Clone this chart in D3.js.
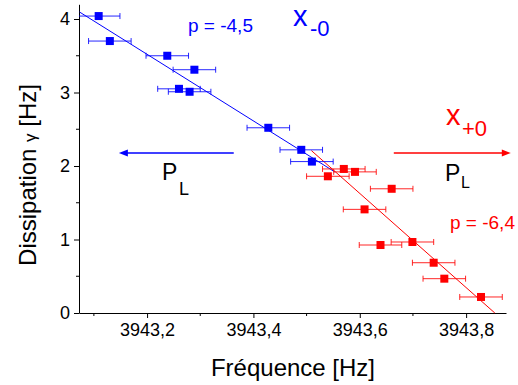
<!DOCTYPE html>
<html><head><meta charset="utf-8">
<script src="https://cdn.jsdelivr.net/npm/d3@7"></script>
<style>
html,body{margin:0;padding:0;background:#fff;}
text{font-family:"Liberation Sans",Arial,sans-serif;}
</style></head>
<body>
<svg id="chart" width="518" height="385"></svg>
<script>
// ---- data ----
const blueFreq = [3943.109, 3943.130, 3943.238, 3943.289, 3943.260, 3943.280, 3943.428, 3943.490, 3943.510];
const blueDiss = [4.04, 3.70, 3.50, 3.31, 3.05, 3.01, 2.52, 2.22, 2.06];
const redFreq  = [3943.570, 3943.591, 3943.540, 3943.660, 3943.609, 3943.639, 3943.699, 3943.739, 3943.759, 3943.828];
const redDiss  = [1.96, 1.92, 1.86, 1.69, 1.41, 0.925, 0.966, 0.684, 0.467, 0.218];
const freqErr = 0.04;
const blueFitX = [3943.073, 3943.553];
const blueFitY = [4.095, 1.92];
const redFitX  = [3943.509, 3943.854];
const redFitY  = [2.21, 0];
const xTicks = [3943.2, 3943.4, 3943.6, 3943.8];
const xTickLabels = ["3943,2", "3943,4", "3943,6", "3943,8"];
const xMinor = [3943.1, 3943.3, 3943.5, 3943.7];
const yTicks = [0, 1, 2, 3, 4];
const yMinor = [0.5, 1.5, 2.5, 3.5];

const svg = d3.select("#chart");
const x = d3.scaleLinear().domain([3943.072, 3943.875]).range([79, 506]);
const y = d3.scaleLinear().domain([0, 4.2]).range([313, 4.3]);
const BLUE = "#0000ff", RED = "#ff0000";

// axes
const xAxis = d3.axisBottom(x).tickValues(xTicks).tickFormat((d,i)=>xTickLabels[i]).tickSize(5).tickSizeOuter(0).tickPadding(5);
const gx = svg.append("g").attr("transform","translate(0,313)").call(xAxis);
gx.selectAll("text").attr("font-size",18).attr("fill","#000");
gx.selectAll("line").attr("stroke","#000");
gx.select(".domain").attr("stroke","#000");
gx.selectAll(".minor").data(xMinor).enter().append("line").attr("class","minor")
  .attr("x1",d=>x(d)).attr("x2",d=>x(d)).attr("y1",0).attr("y2",3).attr("stroke","#000");

const yAxis = d3.axisLeft(y).tickValues(yTicks).tickFormat(d3.format("d")).tickSize(5).tickSizeOuter(0).tickPadding(4);
const gy = svg.append("g").attr("transform","translate(79,0)").call(yAxis);
gy.selectAll("text").attr("font-size",18).attr("fill","#000");
gy.selectAll("line").attr("stroke","#000");
gy.select(".domain").attr("stroke","#000");
gy.selectAll(".minor").data(yMinor).enter().append("line").attr("class","minor")
  .attr("y1",d=>y(d)).attr("y2",d=>y(d)).attr("x1",0).attr("x2",-3).attr("stroke","#000");

// axis titles
svg.append("text").attr("x",293).attr("y",376).attr("text-anchor","middle").attr("font-size",24).text("Fréquence [Hz]");
const yt = svg.append("text").attr("transform","translate(36,175) rotate(-90)").attr("text-anchor","middle").attr("font-size",24);
yt.append("tspan").text("Dissipation ");
yt.append("tspan").attr("font-size",17).text("γ");
yt.append("tspan").text(" [Hz]");

// fit lines
const line = d3.line().x(d=>x(d[0])).y(d=>y(d[1]));
svg.append("path").attr("d",line(d3.zip(blueFitX,blueFitY))).attr("stroke",BLUE).attr("fill","none").attr("stroke-width",1);
svg.append("path").attr("d",line(d3.zip(redFitX,redFitY))).attr("stroke",RED).attr("fill","none").attr("stroke-width",1);

function drawSeries(fx, fy, color){
  const data = d3.zip(fx, fy);
  const g = svg.append("g");
  const eb = g.selectAll(".eb").data(data).enter().append("g").attr("stroke",color).attr("stroke-width",1).attr("stroke-opacity",0.85);
  eb.append("line").attr("x1",d=>Math.max(x(d[0]-freqErr),x.range()[0])).attr("x2",d=>x(d[0]+freqErr)).attr("y1",d=>y(d[1])).attr("y2",d=>y(d[1]));
  eb.filter(d=>x(d[0]-freqErr)>=x.range()[0]).append("line").attr("x1",d=>x(d[0]-freqErr)).attr("x2",d=>x(d[0]-freqErr)).attr("y1",d=>y(d[1])-3).attr("y2",d=>y(d[1])+3);
  eb.append("line").attr("x1",d=>x(d[0]+freqErr)).attr("x2",d=>x(d[0]+freqErr)).attr("y1",d=>y(d[1])-3).attr("y2",d=>y(d[1])+3);
  g.selectAll(".pt").data(data).enter().append("rect")
    .attr("x",d=>x(d[0])-4).attr("y",d=>y(d[1])-4).attr("width",8).attr("height",8).attr("fill",color);
}
drawSeries(blueFreq, blueDiss, BLUE);
drawSeries(redFreq, redDiss, RED);

// arrows
function arrow(x1, x2, yv, color){
  const px1 = x(x1), px2 = x(x2), py = y(yv);
  const dir = Math.sign(px2 - px1);
  svg.append("line").attr("x1",px1).attr("x2",px2 - dir*6).attr("y1",py).attr("y2",py).attr("stroke",color).attr("stroke-width",1.5);
  svg.append("path").attr("d",`M${px2},${py} L${px2-dir*9},${py-3.5} L${px2-dir*9},${py+3.5} Z`).attr("fill",color);
}
arrow(3943.363, 3943.147, 2.177, BLUE);
arrow(3943.664, 3943.884, 2.177, RED);

// annotations
svg.append("text").attr("x",188).attr("y",32).attr("font-size",19).attr("fill",BLUE).text("p = -4,5");
svg.append("text").attr("x",450).attr("y",229).attr("font-size",19).attr("fill",RED).text("p = -6,4");
svg.append("text").attr("x",293).attr("y",26).attr("font-size",29).attr("fill",BLUE).text("x");
svg.append("text").attr("x",310).attr("y",36).attr("font-size",22).attr("fill",BLUE).text("-0");
svg.append("text").attr("x",446).attr("y",125).attr("font-size",29).attr("fill",RED).text("x");
svg.append("text").attr("x",462).attr("y",136).attr("font-size",22).attr("fill",RED).text("+0");
svg.append("text").attr("x",162).attr("y",180).attr("font-size",23).attr("fill","#000").text("P");
svg.append("text").attr("x",179).attr("y",195).attr("font-size",18).attr("fill","#000").text("L");
svg.append("text").attr("x",445).attr("y",181).attr("font-size",23).attr("fill","#000").text("P");
svg.append("text").attr("x",461).attr("y",188).attr("font-size",16).attr("fill","#000").text("L");
</script>
</body></html>
